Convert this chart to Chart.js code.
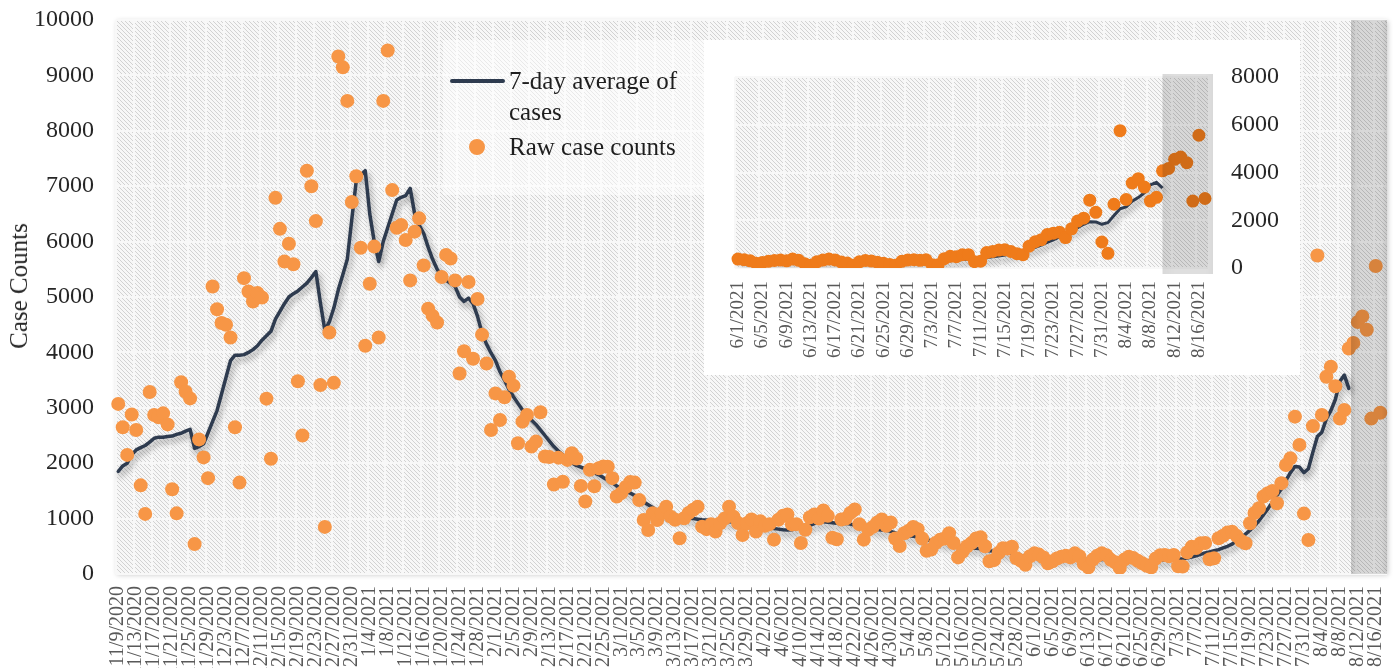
<!DOCTYPE html>
<html><head><meta charset="utf-8">
<script src="https://cdn.jsdelivr.net/npm/chart.js@4.4.0/dist/chart.umd.min.js"></script>
<style>
html,body{margin:0;padding:0;background:#fff;}
#wrap{position:relative;width:1398px;height:668px;overflow:hidden;font-family:"Liberation Serif",serif;color:#1e1e1e;}
#main{position:absolute;left:0;top:0;}
#legendShade{position:absolute;left:443px;top:40px;width:261px;height:155px;background:rgba(255,255,255,0.5);}
#insetBox{position:absolute;left:704px;top:40px;width:596px;height:335px;background:#fff;}
#inset{position:absolute;left:0;top:0;}
.lg{position:absolute;font-size:25px;line-height:31px;white-space:nowrap;}
#ytitle{position:absolute;left:19px;top:286px;transform:translate(-50%,-50%) rotate(-90deg);font-size:25px;white-space:nowrap;color:#262626;}
</style></head>
<body>
<div id="wrap">
  <canvas id="main" width="1398" height="668"></canvas>
  <div id="ytitle">Case Counts</div>
  <div id="legendShade"></div>
  <div style="position:absolute;left:450px;top:79px;width:55px;height:4px;background:#2E3B4F;border-radius:2px;"></div>
  <div class="lg" style="left:509px;top:65px;">7-day average of<br>cases</div>
  <div style="position:absolute;left:469px;top:139px;width:16px;height:16px;border-radius:50%;background:#F79646;"></div>
  <div class="lg" style="left:509px;top:131px;">Raw case counts</div>
  <div id="insetBox"><canvas id="inset" width="596" height="335"></canvas></div>
</div>
<script>
// ---------------- data ----------------
const firstDay = [2020, 11, 9];      // 11/9/2020
const dayCount = 283;               // through 8/18/2021
const insetStartDate = '6/1/2021';
const insetEndDate = '8/17/2021';
const shadeStartDate = '8/10/2021';

const rawCases = [
 3070,2650,2150,2880,2600,1600,1085,3285,2870,2830,
 2900,2700,1530,1095,3460,3290,3170,540,2430,2105,
 1730,5190,4780,4530,4500,4270,2650,1650,5340,5100,
 4920,5070,4990,3165,2080,6790,6230,5640,5960,5590,
 3480,2500,7280,7000,6370,3410,850,4360,3450,9340,
 9145,8540,6715,7180,5890,4120,5240,5910,4270,8540,
 9450,6930,6250,6300,6030,5300,6180,6420,5570,4790,
 4660,4540,5360,5760,5695,5300,3620,4020,5270,3885,
 4965,4320,3800,2600,3260,2780,3190,3560,3400,2360,
 2750,2870,2300,2390,2920,2120,2110,1615,2100,1665,
 2060,2180,2085,1590,1310,1880,1585,1910,1940,1935,
 1730,1400,1460,1570,1660,1650,1336,975,795,1095,
 975,1100,1215,1035,980,645,1005,1100,1160,1215,
 855,810,900,765,915,1000,1215,1035,920,705,
 915,985,765,950,870,900,620,980,1050,1075,
 895,900,560,800,1025,1075,1000,1145,1050,655,
 626,985,1000,1100,1165,900,620,800,850,930,
 985,870,930,640,505,735,780,850,810,640,
 420,440,560,620,640,735,560,300,400,500,
 560,640,665,500,230,250,380,465,460,493,
 283,240,165,320,373,350,300,195,230,280,
 313,330,300,373,320,180,120,260,330,373,
 340,255,210,110,260,313,290,240,195,150,
 120,280,340,345,320,343,140,135,390,490,
 470,554,560,265,285,644,690,750,764,690,
 600,554,915,1100,1186,1400,1457,1500,1276,1640,
 1967,2088,2840,2330,1090,615,2670,5750,2870,3560,
 3740,3390,2805,2960,4070,4170,4550,4650,4410,2805,
 5560,2910
];

const avgCases = [
 1850,1950,2000,2150,2240,2280,2320,2380,2450,2470,
 2470,2480,2490,2520,2540,2580,2610,2270,2300,2350,
 2550,2750,2950,3250,3550,3850,3950,3950,3960,4000,
 4050,4120,4220,4300,4380,4600,4740,4880,5000,5060,
 5110,5180,5250,5350,5460,4900,4400,4550,4800,5130,
 5400,5680,6400,7100,7200,7280,6500,6000,5640,6000,
 6250,6500,6750,6800,6830,6960,6500,6300,6150,5900,
 5680,5500,5380,5300,5250,5190,5000,4920,4980,4880,
 4650,4350,4150,3990,3850,3650,3500,3330,3200,3080,
 2960,2870,2780,2700,2600,2500,2400,2300,2220,2150,
 2060,2010,1960,1930,1900,1860,1830,1790,1740,1700,
 1650,1590,1540,1490,1460,1420,1370,1300,1250,1200,
 1150,1110,1080,1060,1040,1020,1010,1005,1000,990,
 980,975,970,960,955,950,945,940,930,910,
 895,885,870,860,850,830,820,810,800,795,
 800,820,840,855,880,910,930,945,935,925,
 915,910,915,900,880,870,855,840,820,805,
 795,790,770,740,720,700,690,680,670,650,
 620,600,580,570,560,550,530,510,490,480,
 470,465,455,440,420,410,400,390,380,370,
 350,335,320,310,305,300,295,290,285,280,
 280,282,285,285,280,270,262,258,258,260,
 262,260,255,250,248,246,244,243,240,240,
 242,245,250,255,258,262,268,275,290,305,
 330,355,380,400,420,440,470,500,540,600,
 660,720,790,870,960,1070,1180,1300,1420,1540,
 1690,1830,1940,1930,1830,1900,2200,2480,2560,2800,
 2950,3150,3480,3590,3350
];

const mainTicksY = {min:0, max:10000, step:1000};
const insetTicksY = {min:0, max:8000, step:2000};

// ---------------- derived tables ----------------
const categories = [];
for (let k = 0; k < dayCount; k++) {
  const d = new Date(Date.UTC(firstDay[0], firstDay[1]-1, firstDay[2] + k));
  categories.push((d.getUTCMonth()+1) + '/' + d.getUTCDate() + '/' + d.getUTCFullYear());
}
const pad = (arr) => categories.map((c, i) => (i < arr.length ? arr[i] : null));
const rawFull = pad(rawCases);
const avgFull = pad(avgCases);
const iS = categories.indexOf(insetStartDate), iE = categories.indexOf(insetEndDate);
const insetCats = categories.slice(iS, iE + 1);
const insetRaw = rawFull.slice(iS, iE + 1);
const insetAvg = avgFull.slice(iS, iE + 1);

// ---------------- plugins ----------------
const tile = document.createElement('canvas');
tile.width = 4; tile.height = 4;
(function(){
  const g = tile.getContext('2d');
  g.fillStyle = '#f7f7f7'; g.fillRect(0,0,4,4);
  g.strokeStyle = '#d2d2d2'; g.lineWidth = 1;
  g.beginPath();
  g.moveTo(-1,-1); g.lineTo(5,5);
  g.moveTo(-1,3); g.lineTo(1,5);
  g.moveTo(3,-1); g.lineTo(5,1);
  g.stroke();
})();

const hatchPlugin = {
  id: 'hatch',
  beforeDraw(chart, args, opts) {
    const {ctx, chartArea: a} = chart;
    ctx.save();
    if (opts.shadow) {
      ctx.shadowColor = 'rgba(0,0,0,0.22)'; ctx.shadowBlur = 5;
      ctx.shadowOffsetX = 1; ctx.shadowOffsetY = 1;
    }
    ctx.fillStyle = '#f2f2f2';
    ctx.fillRect(a.left, a.top, a.width, a.height);
    ctx.restore();
    ctx.save();
    ctx.fillStyle = ctx.createPattern(tile, 'repeat');
    ctx.fillRect(a.left, a.top, a.width, a.height);
    ctx.restore();
  }
};

const shadowPlugin = {
  id: 'lineShadow',
  beforeDatasetDraw(chart, args) {
    if (chart.data.datasets[args.index].shadow) {
      const c = chart.ctx; c.save();
      c.shadowColor = 'rgba(0,0,0,0.38)'; c.shadowBlur = 6;
      c.shadowOffsetX = 2; c.shadowOffsetY = 4;
    }
  },
  afterDatasetDraw(chart, args) {
    if (chart.data.datasets[args.index].shadow) chart.ctx.restore();
  }
};

const shadePlugin = {
  id: 'shade',
  afterDatasetsDraw(chart, args, o) {
    const x = chart.scales.x, a = chart.chartArea, ctx = chart.ctx;
    const idx = chart.data.labels.indexOf(shadeStartDate);
    const step = x.getPixelForValue(1) - x.getPixelForValue(0);
    const x0 = x.getPixelForValue(idx) + step * o.startOffset;
    const x1 = a.right + o.extRight;
    const y0 = a.top - o.extTop, y1 = a.bottom + o.extBottom;
    const gr = ctx.createLinearGradient(x0, 0, x1, 0);
    gr.addColorStop(0, 'rgba(0,0,0,' + o.edge + ')');
    gr.addColorStop(0.25, 'rgba(0,0,0,' + o.mid + ')');
    gr.addColorStop(0.85, 'rgba(0,0,0,' + o.mid + ')');
    gr.addColorStop(1, 'rgba(0,0,0,' + o.edge + ')');
    ctx.save(); ctx.fillStyle = gr; ctx.fillRect(x0, y0, x1 - x0, y1 - y0); ctx.restore();
  }
};

const serif = '"Liberation Serif", "Times New Roman", serif';
const gridCol = '#f8f8f8';
const plainNum = (v) => String(v);
const fitX = (h) => (s) => { s.height = h; s.paddingLeft = 0; s.paddingRight = 0; };
const fitY = (w) => (s) => { s.width = w; s.paddingTop = 0; s.paddingBottom = 0; };

// ---------------- main chart ----------------
new Chart(document.getElementById('main'), {
  type: 'line',
  data: {
    labels: categories,
    datasets: [
      {label: 'Raw case counts', data: rawFull, showLine: false, pointRadius: 7, pointHoverRadius: 7,
       pointBackgroundColor: '#F79646', pointBorderWidth: 0, borderColor: '#F79646', order: 0},
      {label: '7-day average of cases', data: avgFull, borderColor: '#2E3B4F', borderWidth: 3.5,
       pointRadius: 0, tension: 0, fill: false, order: 1, shadow: true, borderJoinStyle: 'round', borderCapStyle: 'round'}
    ]
  },
  options: {
    responsive: false, animation: false, devicePixelRatio: 1,
    layout: {padding: {left: 0, top: 20, right: 11, bottom: 0}},
    plugins: {legend: {display: false}, tooltip: {enabled: false},
      hatch: {shadow: true},
      shade: {startOffset: 0.5, extRight: 0, extTop: 0, extBottom: 0, edge: 0.2, mid: 0.13}},
    scales: {
      x: {
        offset: true,
        grid: {offset: true, drawTicks: false, lineWidth: 2,
               color: (c) => (c.index % 4 === 0 ? gridCol : 'rgba(0,0,0,0)')},
        border: {display: false},
        ticks: {autoSkip: false, minRotation: 90, maxRotation: 90, padding: 12,
                color: '#595959', font: {family: serif, size: 20},
                callback: (v, i) => (i % 4 === 0 ? categories[i] : '')},
        afterFit: fitX(94)
      },
      y: {
        min: mainTicksY.min, max: mainTicksY.max,
        grid: {drawTicks: false, lineWidth: 2, color: gridCol},
        border: {display: false},
        ticks: {stepSize: mainTicksY.step, padding: 22, color: '#262626', font: {family: serif, size: 24},
                callback: plainNum},
        afterFit: fitY(116)
      }
    }
  },
  plugins: [hatchPlugin, shadowPlugin, shadePlugin]
});

// ---------------- inset chart ----------------
new Chart(document.getElementById('inset'), {
  type: 'line',
  data: {
    labels: insetCats,
    datasets: [
      {label: 'Raw case counts', data: insetRaw, showLine: false, pointRadius: 6.5, pointHoverRadius: 6.5,
       pointBackgroundColor: '#EF7B1A', pointBorderWidth: 0, borderColor: '#EF7B1A', order: 0},
      {label: '7-day average of cases', data: insetAvg, borderColor: '#2E3B4F', borderWidth: 3,
       pointRadius: 0, tension: 0, fill: false, order: 1, shadow: true, borderJoinStyle: 'round'}
    ]
  },
  options: {
    responsive: false, animation: false, devicePixelRatio: 1,
    layout: {padding: {left: 31, top: 37, right: 0, bottom: 0}},
    plugins: {legend: {display: false}, tooltip: {enabled: false},
      hatch: {shadow: false},
      shade: {startOffset: 0, extRight: 5, extTop: 3, extBottom: 6, edge: 0.15, mid: 0.13}},
    scales: {
      x: {
        offset: true,
        grid: {offset: true, drawTicks: false, lineWidth: 2,
               color: (c) => (c.index % 4 === 0 ? gridCol : 'rgba(0,0,0,0)')},
        border: {display: false},
        ticks: {autoSkip: false, minRotation: 90, maxRotation: 90, padding: 13,
                color: '#595959', font: {family: serif, size: 19},
                callback: (v, i) => (i % 4 === 0 ? insetCats[i] : '')},
        afterFit: fitX(107)
      },
      y: {
        position: 'right',
        min: insetTicksY.min, max: insetTicksY.max,
        grid: {drawTicks: false, lineWidth: 2, color: gridCol},
        border: {display: false},
        ticks: {stepSize: insetTicksY.step, padding: 23, color: '#262626', font: {family: serif, size: 24},
                callback: plainNum},
        afterFit: fitY(92)
      }
    }
  },
  plugins: [hatchPlugin, shadowPlugin, shadePlugin]
});
</script>
</body></html>
